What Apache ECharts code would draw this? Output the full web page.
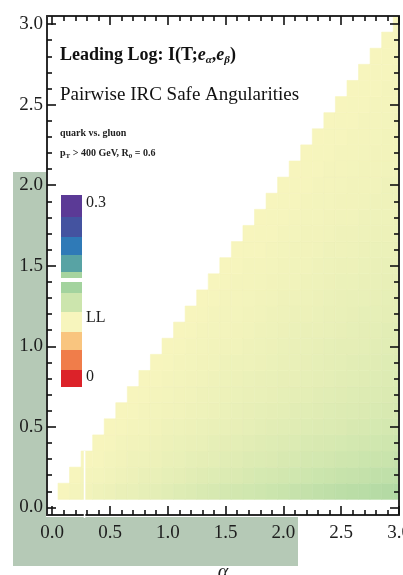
<!DOCTYPE html>
<html>
<head>
<meta charset="utf-8">
<script src="https://cdn.jsdelivr.net/npm/echarts@6/dist/echarts.min.js"></script>
<style>
  html, body { margin: 0; padding: 0; background: #ffffff; }
  #chart { width: 403px; height: 575px; }
</style>
</head>
<body>
<div id="chart"></div>
<script>
// Grid of angular exponents (cell centres) for the two angularities
const alphaValues = [0.1, 0.2, 0.3, 0.4, 0.5, 0.6, 0.7, 0.8, 0.9, 1.0,
                     1.1, 1.2, 1.3, 1.4, 1.5, 1.6, 1.7, 1.8, 1.9, 2.0,
                     2.1, 2.2, 2.3, 2.4, 2.5, 2.6, 2.7, 2.8, 2.9, 3.0];
const betaValues  = [0.1, 0.2, 0.3, 0.4, 0.5, 0.6, 0.7, 0.8, 0.9, 1.0,
                     1.1, 1.2, 1.3, 1.4, 1.5, 1.6, 1.7, 1.8, 1.9, 2.0,
                     2.1, 2.2, 2.3, 2.4, 2.5, 2.6, 2.7, 2.8, 2.9, 3.0];

// Mutual information I(T; e_alpha, e_beta) at leading log.
// Row k belongs to beta = betaValues[k]; its entries run over alpha = beta ... 3.0
const mutualInfo = [
  [.100,.102,.104,.106,.108,.110,.111,.113,.115,.117,.119,.121,.123,.125,.127,.129,.130,.132,.134,.136,.138,.140,.142,.144,.146,.148,.149,.151,.153,.155],
  [.100,.102,.103,.105,.106,.108,.110,.111,.113,.114,.116,.118,.119,.121,.122,.124,.126,.127,.129,.130,.132,.134,.135,.137,.138,.140,.142,.143,.145],
  [.100,.101,.103,.104,.106,.107,.108,.110,.111,.113,.114,.115,.117,.118,.120,.121,.122,.124,.125,.127,.128,.129,.131,.132,.134,.135,.136,.138],
  [.100,.101,.103,.104,.105,.106,.108,.109,.110,.111,.113,.114,.115,.116,.118,.119,.120,.121,.123,.124,.125,.126,.128,.129,.130,.131,.133],
  [.100,.101,.102,.103,.104,.106,.107,.108,.109,.110,.111,.112,.113,.115,.116,.117,.118,.119,.120,.121,.122,.124,.125,.126,.127,.128],
  [.100,.101,.102,.103,.104,.105,.106,.107,.108,.109,.111,.112,.113,.114,.115,.116,.117,.118,.119,.120,.121,.122,.123,.124,.125],
  [.100,.101,.102,.103,.104,.105,.106,.107,.108,.109,.110,.111,.112,.113,.114,.115,.116,.117,.118,.119,.120,.121,.122,.123],
  [.100,.101,.102,.103,.104,.105,.106,.107,.108,.109,.110,.111,.112,.112,.113,.114,.115,.116,.117,.118,.119,.120,.121],
  [.100,.101,.102,.103,.104,.105,.106,.107,.107,.108,.109,.110,.111,.112,.113,.114,.115,.116,.117,.118,.119,.120],
  [.100,.101,.102,.103,.104,.105,.105,.106,.107,.108,.109,.110,.111,.112,.113,.114,.114,.115,.116,.117,.118],
  [.100,.101,.102,.103,.103,.104,.105,.106,.107,.108,.109,.110,.110,.111,.112,.113,.114,.115,.116,.117],
  [.100,.101,.102,.103,.103,.104,.105,.106,.107,.108,.108,.109,.110,.111,.112,.113,.113,.114,.115],
  [.100,.101,.102,.102,.103,.104,.105,.106,.106,.107,.108,.109,.110,.111,.111,.112,.113,.114],
  [.100,.101,.102,.102,.103,.104,.105,.105,.106,.107,.108,.109,.109,.110,.111,.112,.112],
  [.100,.101,.102,.102,.103,.104,.105,.105,.106,.107,.108,.108,.109,.110,.111,.111],
  [.100,.101,.101,.102,.103,.104,.104,.105,.106,.106,.107,.108,.109,.109,.110],
  [.100,.101,.101,.102,.103,.104,.104,.105,.106,.106,.107,.108,.108,.109],
  [.100,.101,.101,.102,.103,.103,.104,.105,.105,.106,.107,.107,.108],
  [.100,.101,.101,.102,.103,.103,.104,.104,.105,.106,.106,.107],
  [.100,.101,.101,.102,.102,.103,.104,.104,.105,.106,.106],
  [.100,.101,.101,.102,.102,.103,.104,.104,.105,.105],
  [.100,.101,.101,.102,.102,.103,.104,.104,.105],
  [.100,.101,.101,.102,.102,.103,.104,.104],
  [.100,.101,.101,.102,.102,.103,.104],
  [.100,.101,.101,.102,.102,.103],
  [.100,.101,.101,.102,.102],
  [.100,.101,.101,.102],
  [.100,.101,.101],
  [.100,.101],
  [.100]
];

// Frame ticks and their labels
const majorTicks = [0, 0.5, 1.0, 1.5, 2.0, 2.5, 3.0];
const minorTicks = [0.1, 0.2, 0.3, 0.4, 0.6, 0.7, 0.8, 0.9, 1.1, 1.2, 1.3, 1.4,
                    1.6, 1.7, 1.8, 1.9, 2.1, 2.2, 2.3, 2.4, 2.6, 2.7, 2.8, 2.9];
const tickLabels = ['0.0', '0.5', '1.0', '1.5', '2.0', '2.5', '3.0'];

// Colour-scale key labels (top to bottom)
const keyLabels = ['0.3', 'LL', '0'];

// ---------------------------------------------------------------------------
const SERIF = '"Liberation Serif", "DejaVu Serif", serif';
const CELL = 0.1;
// Spectral scale, low (red) to high (purple)
const scaleColors = ['#dc2229', '#f07d4a', '#f9c57f', '#f7f5bd', '#cce5ad',
                     '#a3d39e', '#58a3a4', '#2f7ab7', '#4453a0', '#5b3a96'];

const cells = [];
mutualInfo.forEach((row, k) => {
  row.forEach((v, n) => {
    cells.push([alphaValues[k + n], betaValues[k], v]);
  });
});

function labelFor(v) {
  const i = majorTicks.indexOf(v);
  return i >= 0 ? tickLabels[i] : '';
}

function renderCell(params, api) {
  const a = api.value(0), b = api.value(1);
  const p0 = api.coord([a - CELL / 2, b + CELL / 2]);
  const p1 = api.coord([a + CELL / 2, b - CELL / 2]);
  const cs = params.coordSys;
  const shape = echarts.graphic.clipRectByRect(
    { x: p0[0], y: p0[1], width: p1[0] - p0[0], height: p1[1] - p0[1] },
    { x: cs.x, y: cs.y, width: cs.width, height: cs.height }
  );
  if (!shape) return null;
  const c = api.visual('color');
  return { type: 'rect', shape: shape, style: { fill: c, stroke: c, lineWidth: 0.6 } };
}

const X_MIN = -0.045, X_MAX = 3.0, Y_MIN = -0.047, Y_MAX = 3.05;

function frameAxis(pos, isMajor, withLabels, withLine, min, max) {
  return {
    type: 'value', position: pos, min: min, max: max, z: 5,
    axisLine: { show: withLine, onZero: false, lineStyle: { color: '#2b2b2b', width: 2 } },
    axisTick: { show: true, inside: true, length: isMajor ? 9 : 5,
                customValues: isMajor ? majorTicks : minorTicks,
                lineStyle: { color: '#111', width: 1.6 } },
    axisLabel: withLabels ? {
      show: true, customValues: majorTicks, formatter: labelFor,
      fontFamily: SERIF, fontSize: 19, color: '#1e1e1e',
      margin: (pos === 'bottom') ? 9 : 4
    } : { show: false },
    splitLine: { show: false }
  };
}

const chart = echarts.init(document.getElementById('chart'), null, { renderer: 'canvas' });

const xAxes = [
  frameAxis('bottom', true, true, true, X_MIN, X_MAX),
  frameAxis('bottom', false, false, false, X_MIN, X_MAX),
  frameAxis('top', true, false, true, X_MIN, X_MAX),
  frameAxis('top', false, false, false, X_MIN, X_MAX)
];
const yAxes = [
  frameAxis('left', true, true, true, Y_MIN, Y_MAX),
  frameAxis('left', false, false, false, Y_MIN, Y_MAX),
  frameAxis('right', true, false, true, Y_MIN, Y_MAX),
  frameAxis('right', false, false, false, Y_MIN, Y_MAX)
];

// Colour key drawn beside the plot: [colour, height] top to bottom
const keyX = 61, keyW = 21, keyTop = 195;
const keySegments = [
  ['#5b3a96', 22], ['#4453a0', 20], ['#2f7ab7', 18], ['#58a3a4', 17],
  ['#a6d49f', 6], [null, 4], ['#a3d39e', 11], ['#cce5ad', 19],
  ['#f7f5bd', 20], ['#f9c57f', 18], ['#f07d4a', 20], ['#dc2229', 17]
];
const keyGraphics = [];
let yCursor = keyTop;
keySegments.forEach(([c, h]) => {
  if (c) {
    keyGraphics.push({ type: 'rect', z: 10,
      shape: { x: keyX, y: yCursor, width: keyW, height: h },
      style: { fill: c } });
  }
  yCursor += h;
});
const keyLabelY = [203, 318, 377];
keyLabels.forEach((t, i) => {
  keyGraphics.push({ type: 'text', z: 10, x: 86, y: keyLabelY[i],
    style: { text: t, font: '16px ' + SERIF, fill: '#1e1e1e', verticalAlign: 'middle' } });
});

const textGraphics = [
  { type: 'text', z: 10, x: 60, y: 55,
    style: {
      text: '{b|Leading Log: I(T;}{e|e}{s|α}{b|,}{e|e}{s|β}{b|)}',
      verticalAlign: 'middle', fill: '#111',
      rich: {
        b: { fontFamily: SERIF, fontWeight: 'bold', fontSize: 18, fill: '#111', lineHeight: 22 },
        e: { fontFamily: SERIF, fontWeight: 'bold', fontStyle: 'italic', fontSize: 18, fill: '#111', lineHeight: 22 },
        s: { fontFamily: SERIF, fontWeight: 'bold', fontStyle: 'italic', fontSize: 11, fill: '#111',
             lineHeight: 22, verticalAlign: 'bottom', padding: [8, 0, 0, 0] }
      }
    } },
  { type: 'text', z: 10, x: 60, y: 95,
    style: { text: 'Pairwise IRC Safe Angularities', font: '19px ' + SERIF, fill: '#111', verticalAlign: 'middle' } },
  { type: 'text', z: 10, x: 60, y: 133,
    style: { text: 'quark vs. gluon', font: 'bold 10px ' + SERIF, fill: '#222', verticalAlign: 'middle' } },
  { type: 'text', z: 10, x: 60, y: 153,
    style: {
      text: '{n|p}{s|T}{n| > 400 GeV, R}{s|0}{n| = 0.6}',
      verticalAlign: 'middle',
      rich: {
        n: { fontFamily: SERIF, fontWeight: 'bold', fontSize: 10, fill: '#222', lineHeight: 13 },
        s: { fontFamily: SERIF, fontWeight: 'bold', fontSize: 7, fill: '#222', lineHeight: 13,
             verticalAlign: 'bottom', padding: [4, 0, 0, 0] }
      }
    } }
];

// Shaded strips behind the left and bottom tick labels
const bandGraphics = [
  { type: 'rect', z: 0, shape: { x: 13, y: 172, width: 33, height: 345 }, style: { fill: '#b5c9b6' } },
  { type: 'rect', z: 0, shape: { x: 13, y: 517, width: 285, height: 49 }, style: { fill: '#b5c9b6' } }
];

chart.setOption({
  animation: false,
  backgroundColor: '#ffffff',
  grid: { left: 47, right: 4, top: 16, bottom: 60, containLabel: false, outerBoundsMode: 'none' },
  xAxis: xAxes,
  yAxis: yAxes,
  visualMap: {
    show: false, type: 'continuous', min: 0, max: 0.3, dimension: 2, seriesIndex: 0,
    inRange: { color: scaleColors }
  },
  series: [{
    type: 'custom',
    xAxisIndex: 0, yAxisIndex: 0,
    renderItem: renderCell,
    encode: { x: 0, y: 1 },
    data: cells,
    z: 2
  }],
  graphic: bandGraphics.concat(keyGraphics, textGraphics)
});

// Axis title under the frame, centred on the horizontal axis
const axisMid = chart.convertToPixel({ gridIndex: 0 }, [(X_MIN + X_MAX) / 2, Y_MIN]);
const axisTitle = { type: 'text', z: 10, x: axisMid[0], y: 573,
  style: { text: 'α', font: 'italic 20px ' + SERIF, fill: '#1e1e1e', align: 'center', verticalAlign: 'middle' } };

// Thin white seam through the lowest rows near alpha = 0.28
const seamTop = chart.convertToPixel({ gridIndex: 0 }, [0.28, 0.35]);
const seamBot = chart.convertToPixel({ gridIndex: 0 }, [0.28, Y_MIN]);
chart.setOption({
  graphic: bandGraphics.concat(keyGraphics, textGraphics, [axisTitle, {
    type: 'rect', z: 20,
    shape: { x: seamTop[0] - 0.8, y: seamTop[1], width: 1.6, height: seamBot[1] - seamTop[1] + 3 },
    style: { fill: '#ffffff' }
  }])
});
</script>
</body>
</html>
